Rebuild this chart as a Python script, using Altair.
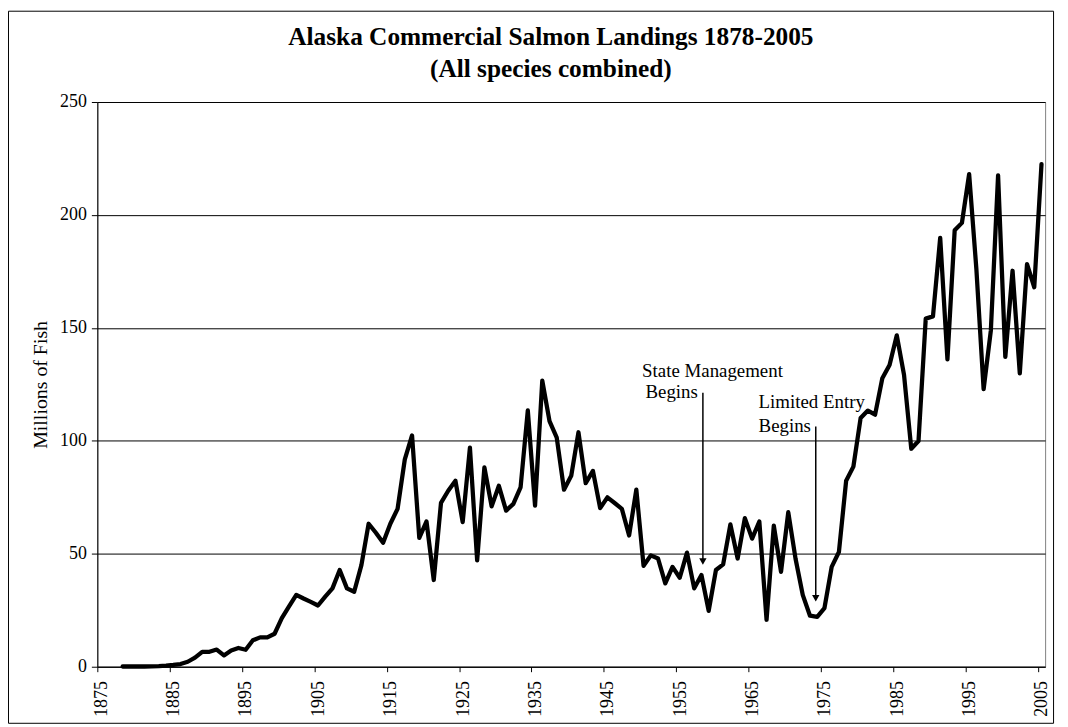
import altair as alt
import pandas as pd

years = list(range(1878, 2006))
landings = [
    0.1, 0.1, 0.1, 0.1, 0.2, 0.3, 0.5, 0.8, 1.2, 2.2,
    4.0, 6.6, 6.6, 7.6, 5.0, 7.2, 8.3, 7.5, 11.7, 13.0,
    13.0, 14.6, 21.5, 26.7, 31.8, 30.2, 28.7, 27.1, 31.0, 34.7,
    42.8, 34.7, 33.2, 45.0, 63.3, 59.3, 54.9, 63.3, 69.9, 91.8,
    102.4, 57.0, 64.3, 38.4, 72.5, 77.9, 82.3, 64.0, 97.0, 47.1,
    88.2, 71.0, 80.1, 69.1, 72.1, 79.4, 113.5, 71.3, 126.7, 108.7,
    101.4, 78.4, 84.5, 103.8, 81.3, 86.7, 70.2, 75.0, 72.5, 69.9,
    58.1, 78.4, 44.7, 49.3, 47.9, 36.9, 44.2, 39.4, 50.5, 34.7,
    40.6, 24.7, 42.8, 45.3, 63.0, 47.9, 65.8, 56.7, 64.3, 20.8,
    62.5, 42.0, 68.4, 47.9, 31.8, 22.6, 22.1, 25.9, 44.2, 50.8,
    82.3, 88.6, 110.1, 113.4, 111.6, 127.7, 133.6, 146.7, 129.2, 96.5,
    99.9, 154.1, 155.1, 189.9, 136.1, 193.2, 196.5, 218.1, 176.0, 122.9,
    148.9, 217.5, 137.2, 175.3, 129.9, 178.2, 168.0, 222.5,
]

tick_years = list(range(1875, 2006, 10))
y_ticks = [0, 50, 100, 150, 200, 250]

title_lines = ["Alaska Commercial Salmon Landings 1878-2005", "(All species combined)"]

# annotations
note_text = ["State Management", "Begins", "Limited Entry", "Begins"]
note_x = [1949.8, 1957.5, 1965.9, 1965.9]
note_y = [128.3, 119.1, 114.5, 103.7]
note_align = ["left", "right", "left", "left"]
arrow_x = [1958.2, 1973.8]
arrow_top = [121.3, 106.3]
arrow_tip = [46.6, 30.3]

FONT = "Liberation Serif"
W, H = 955, 569

df = pd.DataFrame({"year": years, "fish": landings})
notes = pd.DataFrame({"t": note_text, "x": note_x, "y": note_y, "a": note_align})
arrows = pd.DataFrame({"x": arrow_x, "top": arrow_top, "tip": arrow_tip})

xscale = alt.Scale(domain=[1874.5, 2005.5], nice=False, zero=False)
yscale = alt.Scale(domain=[0, 250], nice=False)

line = alt.Chart(df).mark_line(color="black", strokeWidth=4.3, strokeJoin="round", strokeCap="round").encode(
    x=alt.X("year:Q", scale=xscale,
            axis=alt.Axis(values=[t - 0.5 for t in tick_years],
                          labelExpr="format(datum.value + 0.5, 'd')",
                          labelAngle=270, labelAlign="right", labelBaseline="middle",
                          labelPadding=9, labelOffset=4, tickSize=5, grid=False, title=None,
                          labelFont=FONT, labelFontSize=18, labelColor="black",
                          domainColor="black", tickColor="black",
                          labelFlush=False, labelOverlap=False)),
    y=alt.Y("fish:Q", scale=yscale,
            axis=alt.Axis(values=y_ticks, tickSize=6, labelPadding=5,
                          labelFont=FONT, labelFontSize=18, labelColor="black",
                          grid=True, gridColor="black", gridWidth=1,
                          domainColor="black", tickColor="black",
                          title="Millions of Fish", titleFont=FONT, titleFontSize=20,
                          titleFontWeight="normal", titleColor="black",
                          titleAngle=270, titleX=-57, titleY=H / 2,
                          titleAlign="center", titleBaseline="middle")),
)

texts_left = alt.Chart(notes[notes.a == "left"]).mark_text(
    font=FONT, fontSize=19, color="black", baseline="alphabetic", align="left").encode(
    x=alt.X("x:Q", scale=xscale),
    y=alt.Y("y:Q", scale=yscale),
    text="t:N",
)
texts_right = alt.Chart(notes[notes.a == "right"]).mark_text(
    font=FONT, fontSize=19, color="black", baseline="alphabetic", align="right").encode(
    x=alt.X("x:Q", scale=xscale),
    y=alt.Y("y:Q", scale=yscale),
    text="t:N",
)

rules = alt.Chart(arrows).mark_rule(color="black", strokeWidth=1.5).encode(
    x=alt.X("x:Q", scale=xscale),
    y=alt.Y("top:Q", scale=yscale),
    y2="tip:Q",
)

heads = alt.Chart(arrows).mark_point(shape="triangle-down", filled=True, color="black", size=55, opacity=1).encode(
    x=alt.X("x:Q", scale=xscale),
    y=alt.Y("tip:Q", scale=yscale),
)

frame = alt.Chart(pd.DataFrame({"k": [0]})).mark_rect(fillOpacity=0, stroke="black", strokeWidth=1).encode(
    x=alt.value(-89.5), x2=alt.value(963.5), y=alt.value(-91.5), y2=alt.value(626),
)

title1 = alt.Chart(pd.DataFrame({"t": [title_lines[0]]})).mark_text(
    font=FONT, fontSize=25.5, fontWeight="bold", color="black", align="center", baseline="alphabetic").encode(
    text="t:N", x=alt.value(457), y=alt.value(-57),
)
title2 = alt.Chart(pd.DataFrame({"t": [title_lines[1]]})).mark_text(
    font=FONT, fontSize=25.5, fontWeight="bold", color="black", align="center", baseline="alphabetic").encode(
    text="t:N", x=alt.value(457), y=alt.value(-25),
)

chart = alt.layer(frame, line, rules, heads, texts_left, texts_right, title1, title2).properties(
    width=W, height=H,
    autosize=alt.AutoSizeParams(type="none"),
    padding={"left": 90, "top": 92, "right": 15, "bottom": 58},
    background="white",
).configure_view(stroke="#808080", strokeWidth=1)

chart.save("out.html", embed_options={"renderer": "svg", "actions": False})
